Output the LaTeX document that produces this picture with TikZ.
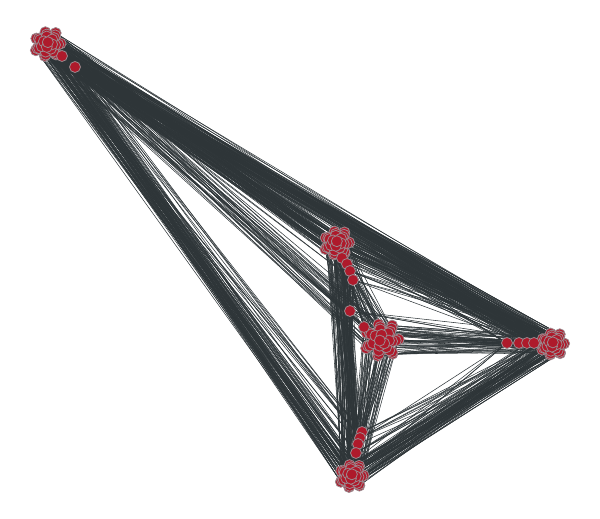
\documentclass[tikz,border=0pt]{standalone}
\usepackage{tikz}
\usetikzlibrary{backgrounds,calc}

\definecolor{vertred}{HTML}{AE1A2B}
\definecolor{vertrim}{HTML}{9C8A8F}
\definecolor{linkgray}{HTML}{2E3538}

\tikzset{
	vert/.style={circle, fill=vertred, draw=vertrim, line width=0.45pt,
		minimum size=0.22cm, inner sep=0pt},
	link/.style={draw=linkgray, line width=0.3pt},
}

% packed group of vertices, outer ones first: name, x, y, count, spread
\newcommand{\vgroup}[5]{%
	\foreach \k in {1,...,#4}{%
		\pgfmathsetmacro{\rr}{#5*sqrt(#4+0.5-\k)}%
		\pgfmathsetmacro{\aa}{137.5*\k+15*mod(\k,3)}%
		\node[vert] (#1\k) at ($(#2,#3)+(\aa:\rr)$) {};
	}}

% random links between two groups: name, size, name, size, count
\newcommand{\linkset}[5]{%
	\foreach \k in {1,...,#5}{%
		\pgfmathrandominteger{\i}{1}{#2}%
		\pgfmathrandominteger{\j}{1}{#4}%
		\draw[link] (#1\i.center) -- (#3\j.center);
	}}

\begin{document}
\begin{tikzpicture}[x=0.02cm, y=-0.02cm]
		\useasboundingbox (0,0) rectangle (600,519);
		\pgfmathsetseed{7}

		% groups
		\vgroup{a}{48}{44}{28}{2.6}
		\node[vert] (a29) at (62,56) {};
		\node[vert] (a30) at (75,67) {};

		\vgroup{b}{337}{243}{28}{2.5}
		\node[vert] (b29) at (342,258) {};
		\node[vert] (b30) at (347,264) {};
		\node[vert] (b31) at (350,271) {};
		\node[vert] (b32) at (353,280) {};
		\node[vert] (b33) at (350,311) {};

		\vgroup{c}{382}{340}{30}{3.3}
		\node[vert] (c31) at (364,327) {};

		\vgroup{d}{553}{344}{28}{2.3}
		\node[vert] (d29) at (507,343) {};
		\node[vert] (d30) at (519,343) {};
		\node[vert] (d31) at (527,343) {};
		\node[vert] (d32) at (534,343) {};

		\vgroup{e}{352}{476}{28}{2.4}
		\node[vert] (e29) at (362,432) {};
		\node[vert] (e30) at (360,438) {};
		\node[vert] (e31) at (358,444) {};
		\node[vert] (e32) at (356,453) {};

		% links
		\begin{pgfonlayer}{background}
			\linkset{a}{30}{b}{33}{100}
			\linkset{a}{30}{d}{32}{100}
			\linkset{a}{30}{e}{32}{100}
			\linkset{a}{30}{c}{31}{35}
			\linkset{b}{33}{e}{32}{100}
			\linkset{b}{33}{d}{32}{90}
			\linkset{b}{33}{c}{31}{45}
			\linkset{c}{31}{d}{32}{55}
			\linkset{c}{31}{e}{32}{55}
			\linkset{d}{32}{e}{32}{100}
		\end{pgfonlayer}
	\end{tikzpicture}
\end{document}
